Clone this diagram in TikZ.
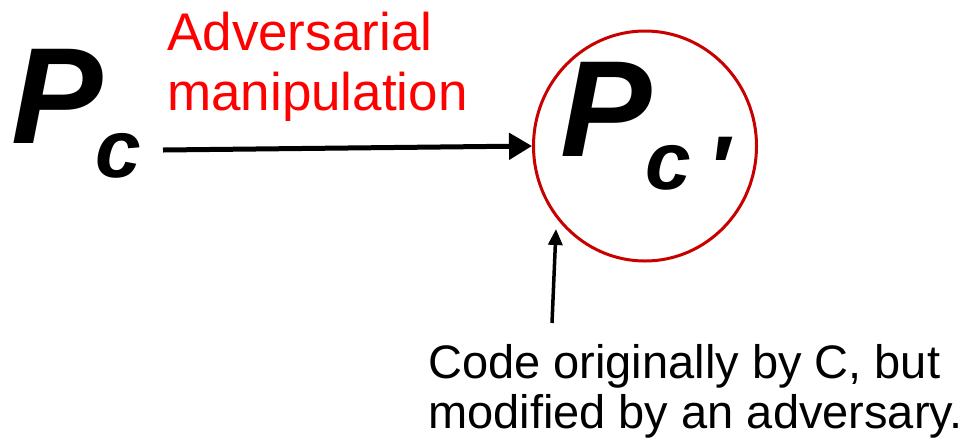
\documentclass[tikz,border=0pt]{standalone}
\usepackage{fontspec}
\setmainfont{Liberation Sans}
\usetikzlibrary{arrows.meta,shapes.geometric}
\definecolor{circred}{RGB}{200,0,0}
\definecolor{txtred}{RGB}{255,0,0}
\begin{document}
\begin{tikzpicture}[x=1pt,y=-1pt,
  bigP/.style={inner sep=0,anchor=base west,font=\fontsize{137}{137}\selectfont\bfseries\itshape},
  subc/.style={inner sep=0,anchor=base west,font=\fontsize{82}{82}\selectfont\bfseries\itshape},
  primec/.style={inner sep=0,anchor=base west,font=\fontsize{92}{92}\selectfont\bfseries\itshape},
  redlbl/.style={inner sep=0,anchor=base west,align=left,text=txtred,font=\fontsize{53}{60}\selectfont},
  blklbl/.style={inner sep=0,anchor=base west,align=left,font=\fontsize{47}{50}\selectfont},
  bigarrow/.style={-{Triangle[length=23pt,width=26pt]},line width=5pt},
  thinarrow/.style={-{Triangle[length=16pt,width=14pt]},line width=3.5pt}]
\useasboundingbox (0,0) rectangle (976,440);
\node[bigP] (P1) at (11,143) {P};
\node[subc] (c1) at (95,177) {c};
\node[ellipse,draw=circred,line width=3pt,minimum width=223pt,minimum height=230pt,inner sep=0] (circ) at (645,146) {};
\node[bigP] (P2) at (560,156) {P};
\node[subc] (c2) at (645,189) {c};
\node[primec] (pr) at (707,200) {′};
\node[redlbl] (adv) at (167,110) {Adversarial\\manipulation};
\node[blklbl] (note) at (428,428) {Code originally by C, but\\modified by an adversary.};
\coordinate (a0) at (163,150);
\draw[bigarrow] (a0) -- (circ.west);
\coordinate (t0) at (552,323);
\coordinate (t1) at (556,229);
\draw[thinarrow] (t0) -- (t1);
\end{tikzpicture}
\end{document}
